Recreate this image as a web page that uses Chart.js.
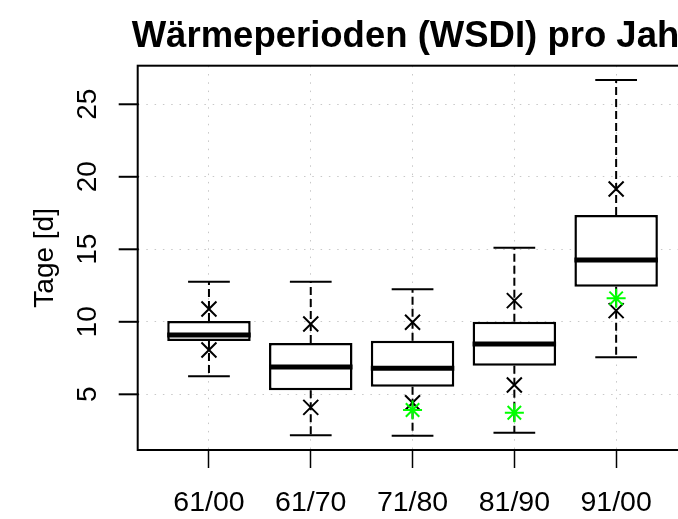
<!DOCTYPE html>
<html>
<head>
<meta charset="utf-8">
<script src="https://cdn.jsdelivr.net/npm/chart.js"></script>
<style>
  html, body { margin: 0; padding: 0; overflow: hidden; background: #fff; }
  #wrap { position: absolute; left: 0; top: 0; width: 700px; height: 519px; }
</style>
</head>
<body>
<div id="wrap"><canvas id="mycanvas" width="700" height="519"></canvas></div>
<script>
// box statistics per period (Tage)
var categories = ['61/00', '61/70', '71/80', '81/90', '91/00'];
var whiskerLow  = [6.24, 2.17, 2.14, 2.35, 7.55];
var q1          = [8.68, 5.28, 5.52, 6.97, 12.42];
var median      = [9.09, 6.88, 6.79, 8.47, 14.26];
var q3          = [10.06, 8.54, 8.70, 10.01, 17.37];
var whiskerHigh = [12.77, 12.77, 12.24, 15.11, 26.68];
// extra markers
var markHigh  = [10.88, 9.85, 9.97, 11.46, 19.16];
var markLow   = [8.06, 4.10, 4.42, 5.64, 10.77];
var markGreen = [null, null, 3.92, 3.73, 11.62];
var yTicks = [5, 10, 15, 20, 25];

var FONT = '"Liberation Sans", Arial, Helvetica, sans-serif';
var BOX = 2; // index of the box dataset

function pts(arr) {
  var out = [];
  for (var i in arr) {
    if (arr[i] !== null) out.push({x: +i + 1, y: arr[i]});
  }
  return out;
}

var boxData = [];
for (var i in q1) boxData.push({x: +i + 1, y: [q1[i], q3[i]]});

var boxParts = {
  id: 'boxParts',
  beforeDatasetsDraw: function(chart) {
    var ctx = chart.ctx, a = chart.chartArea, y = chart.scales.y;
    var meta = chart.getDatasetMeta(BOX);
    ctx.save();
    ctx.strokeStyle = '#000';
    ctx.lineWidth = 2;
    ctx.setLineDash([]);
    ctx.strokeRect(a.left, a.top, a.right - a.left, a.bottom - a.top);
    for (var i = 0; i < meta.data.length; i++) {
      var bar = meta.data[i];
      var cx = bar.x, half = bar.width / 4;
      var pLo = y.getPixelForValue(whiskerLow[i]);
      var pHi = y.getPixelForValue(whiskerHigh[i]);
      var pQ1 = y.getPixelForValue(q1[i]);
      var pQ3 = y.getPixelForValue(q3[i]);
      ctx.setLineDash([8, 4]);
      ctx.beginPath();
      ctx.moveTo(cx, pQ3); ctx.lineTo(cx, pHi);
      ctx.moveTo(cx, pQ1); ctx.lineTo(cx, pLo);
      ctx.stroke();
      ctx.setLineDash([]);
      ctx.beginPath();
      ctx.moveTo(cx - half, pHi); ctx.lineTo(cx + half, pHi);
      ctx.moveTo(cx - half, pLo); ctx.lineTo(cx + half, pLo);
      ctx.stroke();
    }
    ctx.restore();
  },
  afterDatasetDraw: function(chart, args) {
    if (args.index !== BOX) return;
    var ctx = chart.ctx, y = chart.scales.y;
    var meta = chart.getDatasetMeta(BOX);
    ctx.save();
    ctx.strokeStyle = '#000';
    ctx.lineWidth = 5;
    for (var i = 0; i < meta.data.length; i++) {
      var bar = meta.data[i];
      var p = y.getPixelForValue(median[i]);
      ctx.beginPath();
      ctx.moveTo(bar.x - bar.width / 2, p);
      ctx.lineTo(bar.x + bar.width / 2, p);
      ctx.stroke();
    }
    ctx.restore();
  },
  afterDraw: function(chart) {
    var ctx = chart.ctx, a = chart.chartArea, y = chart.scales.y;
    ctx.save();
    ctx.fillStyle = '#000';
    // rotated y tick labels
    ctx.font = '28px ' + FONT;
    ctx.textAlign = 'center';
    ctx.textBaseline = 'middle';
    for (var i = 0; i < yTicks.length; i++) {
      var p = y.getPixelForValue(yTicks[i]);
      ctx.save();
      ctx.translate(87, p);
      ctx.rotate(-Math.PI / 2);
      ctx.fillText(String(yTicks[i]), 0, 1);
      ctx.restore();
    }
    // main title, centred over the plot region
    ctx.font = 'bold 36.5px ' + FONT;
    ctx.textAlign = 'center';
    ctx.textBaseline = 'alphabetic';
    ctx.fillText('Wärmeperioden (WSDI) pro Jahr', (a.left + a.right) / 2, 47);
    ctx.restore();

    // y tick marks, outside the frame
    ctx.save();
    ctx.strokeStyle = '#000000';
    ctx.lineWidth = 2;
    for (var k = 0; k < yTicks.length; k++) {
      var py = y.getPixelForValue(yTicks[k]);
      ctx.beginPath();
      ctx.moveTo(a.left - 19, py);
      ctx.lineTo(a.left + 1, py);
      ctx.stroke();
    }
    ctx.restore();
  }
};

var ctx = document.getElementById('mycanvas');

var chart = new Chart(ctx, {
  data: {
    datasets: [
      {
        type: 'scatter',
        data: pts(markGreen),
        pointStyle: 'star',
        radius: 9.5,
        borderColor: '#00ff00',
        backgroundColor: '#00ff00',
        borderWidth: 2
      },
      {
        type: 'scatter',
        data: pts(markHigh).concat(pts(markLow)),
        pointStyle: 'crossRot',
        radius: 10.6,
        borderColor: '#000',
        backgroundColor: '#000',
        borderWidth: 2
      },
      {
        type: 'bar',
        data: boxData,
        backgroundColor: '#fff',
        borderColor: '#000',
        borderWidth: 2.5,
        borderSkipped: false,
        categoryPercentage: 0.82,
        barPercentage: 1
      }
    ]
  },
  options: {
    responsive: false,
    animation: false,
    devicePixelRatio: 1,
    events: [],
    layout: { padding: { top: 65.7, right: 8.4, left: 0, bottom: 0 } },
    plugins: {
      legend: { display: false },
      tooltip: { enabled: false },
      title: { display: false }
    },
    scales: {
      x: {
        type: 'linear',
        offset: false,
        min: 0.3,
        max: 5.7,
        afterFit: function(scale) { scale.height = 69; },
        border: { display: false, dash: [1.5, 6.8] },
        grid: {
          offset: false,
          color: '#c8c8c8',
          lineWidth: 1,
          tickLength: 18,
          tickColor: '#000',
          tickWidth: 1.5,
          tickBorderDash: []
        },
        ticks: {
          stepSize: 1,
          includeBounds: false,
          autoSkip: false,
          maxRotation: 0,
          padding: 18,
          color: '#000',
          font: { family: FONT, size: 28.5 },
          callback: function(v) { return categories[v - 1]; }
        }
      },
      y: {
        type: 'linear',
        min: 1.16,
        max: 27.66,
        afterFit: function(scale) { scale.width = 137.7; },
        border: { display: false, dash: [1.5, 6.8] },
        grid: {
          color: '#c8c8c8',
          lineWidth: 1,
          drawTicks: false
        },
        ticks: {
          stepSize: 5,
          includeBounds: false,
          display: false
        },
        title: {
          display: true,
          text: 'Tage [d]',
          color: '#000',
          font: { family: FONT, size: 28 },
          padding: { top: 28, bottom: 0 }
        }
      }
    }
  },
  plugins: [boxParts]
});
</script>
</body>
</html>
